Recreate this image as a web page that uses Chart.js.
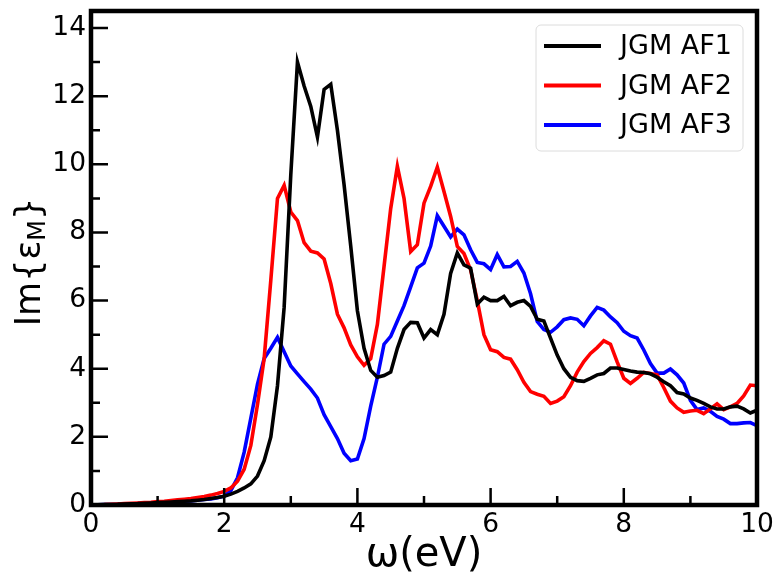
<!DOCTYPE html>
<html>
<head>
<meta charset="utf-8">
<script src="https://cdn.jsdelivr.net/npm/chart.js@4/dist/chart.umd.min.js"></script>
<style>
  html, body { margin: 0; padding: 0; background: #fff; }
</style>
</head>
<body>
<canvas id="chart" width="774" height="576"></canvas>
<script>
const energy = [
  0.0, 0.1, 0.2, 0.3, 0.4, 0.5, 0.6, 0.7, 0.8, 0.9,
  1.0, 1.1, 1.2, 1.3, 1.4, 1.5, 1.6, 1.7, 1.8, 1.9,
  2.0, 2.1, 2.2, 2.3, 2.4, 2.5, 2.6, 2.7, 2.8, 2.9,
  3.0, 3.1, 3.2, 3.3, 3.4, 3.5, 3.6, 3.7, 3.8, 3.9,
  4.0, 4.1, 4.2, 4.3, 4.4, 4.5, 4.6, 4.7, 4.8, 4.9,
  5.0, 5.1, 5.2, 5.3, 5.4, 5.5, 5.6, 5.7, 5.8, 5.9,
  6.0, 6.1, 6.2, 6.3, 6.4, 6.5, 6.6, 6.7, 6.8, 6.9,
  7.0, 7.1, 7.2, 7.3, 7.4, 7.5, 7.6, 7.7, 7.8, 7.9,
  8.0, 8.1, 8.2, 8.3, 8.4, 8.5, 8.6, 8.7, 8.8, 8.9,
  9.0, 9.1, 9.2, 9.3, 9.4, 9.5, 9.6, 9.7, 9.8, 9.9,
  10.0
];

const af1 = [
  0, 0.005, 0.01, 0.015, 0.02, 0.03, 0.035, 0.04, 0.05, 0.06,
  0.07, 0.08, 0.09, 0.1, 0.11, 0.12, 0.14, 0.16, 0.19, 0.22,
  0.26, 0.32, 0.4, 0.5, 0.62, 0.85, 1.3, 2.0, 3.5, 5.8,
  9.7, 13.0, 12.3, 11.7, 10.8, 12.2, 12.35, 11.0, 9.4, 7.6,
  5.7, 4.6, 3.95, 3.75, 3.8, 3.9, 4.6, 5.15, 5.36, 5.35,
  4.9, 5.15, 5.0, 5.6, 6.8, 7.4, 7.05, 6.95, 5.9, 6.1,
  6.0, 6.0, 6.12, 5.85, 5.95, 6.0, 5.83, 5.45, 5.4, 4.9,
  4.4, 4.0, 3.75, 3.65, 3.63, 3.72, 3.82, 3.86, 4.02, 4.02,
  3.98, 3.93, 3.9, 3.89, 3.85, 3.75, 3.62, 3.5, 3.3, 3.26,
  3.14, 3.07, 2.98, 2.88, 2.82, 2.82, 2.88, 2.9, 2.82, 2.7,
  2.78
];

const af2 = [
  0, 0.005, 0.01, 0.02, 0.03, 0.04, 0.05, 0.06, 0.07, 0.08,
  0.1, 0.11, 0.13, 0.15, 0.17, 0.19, 0.22, 0.25, 0.29, 0.34,
  0.4, 0.5, 0.7, 1.05, 1.75, 2.95, 4.3, 6.6, 9.0, 9.38,
  8.6, 8.35, 7.7, 7.45, 7.4, 7.22, 6.5, 5.6, 5.2, 4.7,
  4.35, 4.1, 4.3, 5.3, 7.0, 8.7, 9.94, 9.0, 7.44, 7.64,
  8.86, 9.35, 9.92, 9.2, 8.47, 7.59, 7.38, 6.9, 6.0, 5.0,
  4.56, 4.5, 4.33, 4.28, 3.97, 3.6, 3.33, 3.25, 3.19, 2.98,
  3.05, 3.18, 3.5, 3.9, 4.21, 4.45, 4.62, 4.82, 4.72, 4.2,
  3.72, 3.57, 3.72, 3.89, 3.86, 3.82, 3.45, 3.05, 2.85, 2.72,
  2.76, 2.78, 2.68, 2.82, 2.97, 2.8, 2.88, 2.98, 3.2, 3.52,
  3.5
];

const af3 = [
  0, 0.005, 0.01, 0.015, 0.02, 0.03, 0.035, 0.04, 0.05, 0.06,
  0.07, 0.08, 0.09, 0.1, 0.11, 0.12, 0.14, 0.16, 0.18, 0.21,
  0.26, 0.42, 0.8, 1.55, 2.55, 3.55, 4.3, 4.6, 4.92, 4.5,
  4.08, 3.85, 3.62, 3.4, 3.14, 2.65, 2.3, 1.95, 1.52, 1.3,
  1.35, 1.95, 2.9, 3.75, 4.72, 4.95, 5.4, 5.85, 6.4, 6.96,
  7.1, 7.6, 8.49, 8.18, 7.87, 8.1, 7.93, 7.49, 7.12, 7.08,
  6.91, 7.35, 6.99, 7.0, 7.15, 6.81, 6.2, 5.39, 5.15, 5.07,
  5.23, 5.44, 5.49, 5.45, 5.26, 5.55, 5.8, 5.72, 5.52, 5.35,
  5.1, 4.97, 4.9, 4.55, 4.15, 3.87, 3.87, 3.99, 3.82, 3.58,
  3.07, 2.8, 2.85, 2.75, 2.6, 2.52, 2.39, 2.39, 2.41, 2.42,
  2.33
];

const seriesNames = ["JGM AF1", "JGM AF2", "JGM AF3"];
const seriesColors = ["#000000", "#ff0000", "#0000ff"];

const xTicks = [0, 2, 4, 6, 8, 10];
const xMinor = [1, 3, 5, 7, 9];
const yTicks = [0, 2, 4, 6, 8, 10, 12, 14];
const yMinor = [1, 3, 5, 7, 9, 11, 13];

const FONT = "'DejaVu Sans', 'Liberation Sans', sans-serif";

function pairs(vals) {
  return vals.map((v, i) => ({ x: energy[i], y: v }));
}

// inward ticks, frame, legend box and the y title with its subscript
const decorations = {
  id: "decorations",
  afterDatasetsDraw(chart) {
    const ctx = chart.ctx;
    const a = chart.chartArea;
    const xs = chart.scales.x;
    const ys = chart.scales.y;
    ctx.save();
    ctx.strokeStyle = "#000";
    ctx.lineWidth = 2.5;
    ctx.beginPath();
    xTicks.forEach(v => {
      const p = xs.getPixelForValue(v);
      ctx.moveTo(p, a.bottom); ctx.lineTo(p, a.bottom - 17);
    });
    xMinor.forEach(v => {
      const p = xs.getPixelForValue(v);
      ctx.moveTo(p, a.bottom); ctx.lineTo(p, a.bottom - 9);
    });
    yTicks.forEach(v => {
      const p = ys.getPixelForValue(v);
      ctx.moveTo(a.left, p); ctx.lineTo(a.left + 17, p);
    });
    yMinor.forEach(v => {
      const p = ys.getPixelForValue(v);
      ctx.moveTo(a.left, p); ctx.lineTo(a.left + 9, p);
    });
    ctx.stroke();

    ctx.lineWidth = 4.5;
    ctx.strokeRect(a.left, a.top, a.right - a.left, a.bottom - a.top);

    //legend
    const bx = a.right - 221, by = a.top + 14, bw = 207, bh = 126;
    ctx.beginPath();
    ctx.roundRect(bx, by, bw, bh, 5);
    ctx.fillStyle = "rgba(255,255,255,0.85)";
    ctx.fill();
    ctx.lineWidth = 1;
    ctx.strokeStyle = "#dcdcdc";
    ctx.stroke();
    ctx.font = "27px " + FONT;
    ctx.textBaseline = "middle";
    ctx.textAlign = "left";
    chart.data.datasets.forEach((ds, i) => {
      const ly = by + 21 + i * 39.5;
      ctx.beginPath();
      ctx.strokeStyle = ds.borderColor;
      ctx.lineWidth = 4;
      ctx.moveTo(bx + 8, ly); ctx.lineTo(bx + 65, ly);
      ctx.stroke();
      ctx.fillStyle = "#000";
      ctx.fillText(ds.label, bx + 84, ly + 1);
    });

    // y title  Im{ε_M}
    const big = "35px " + FONT, small = "24px " + FONT;
    ctx.font = big;
    const w1 = ctx.measureText("Im{ε").width;
    const w3 = ctx.measureText("}").width;
    ctx.font = small;
    const w2 = ctx.measureText("M").width;
    const total = w1 + w2 + w3;
    const cy = (a.top + a.bottom) / 2 + 4;
    ctx.translate(40, cy);
    ctx.rotate(-Math.PI / 2);
    ctx.fillStyle = "#000";
    ctx.textBaseline = "alphabetic";
    let tx = -total / 2;
    ctx.font = big;
    ctx.fillText("Im{ε", tx, 0);
    tx += w1;
    ctx.font = small;
    ctx.fillText("M", tx, 5);
    tx += w2;
    ctx.font = big;
    ctx.fillText("}", tx, 0);
    ctx.restore();
  }
};

new Chart(document.getElementById("chart"), {
  type: "line",
  data: {
    datasets: [af1, af2, af3].map((vals, i) => ({
      label: seriesNames[i],
      data: pairs(vals),
      borderColor: seriesColors[i],
      backgroundColor: seriesColors[i],
      borderWidth: 3.6,
      pointRadius: 0,
      tension: 0,
      fill: false
    }))
  },
  options: {
    responsive: false,
    animation: false,
    layout: { padding: { top: 11, right: 17, left: 0, bottom: 0 } },
    plugins: {
      legend: { display: false },
      tooltip: { enabled: false }
    },
    scales: {
      x: {
        type: "linear",
        min: 0,
        max: 10,
        grid: { display: false, drawTicks: false },
        border: { display: false },
        afterBuildTicks: s => { s.ticks = xTicks.map(v => ({ value: v })); },
        afterFit: s => { s.height = 71; s.paddingLeft = 0; s.paddingRight = 0; },
        ticks: {
          color: "#000",
          font: { family: FONT, size: 26.5 },
          padding: 4,
          maxRotation: 0,
          autoSkip: false
        },
        title: {
          display: true,
          text: "ω(eV)",
          color: "#000",
          font: { family: FONT, size: 40, lineHeight: 1 },
          padding: 0
        }
      },
      y: {
        type: "linear",
        min: 0,
        max: 14.5,
        grid: { display: false, drawTicks: false },
        border: { display: false },
        afterBuildTicks: s => { s.ticks = yTicks.map(v => ({ value: v })); },
        afterFit: s => { s.width = 91; s.paddingTop = 0; s.paddingBottom = 0; },
        ticks: {
          color: "#000",
          font: { family: FONT, size: 26.5, lineHeight: 0.8 },
          padding: 5,
          autoSkip: false
        },
        title: { display: false }
      }
    }
  },
  plugins: [decorations]
});
</script>
</body>
</html>
